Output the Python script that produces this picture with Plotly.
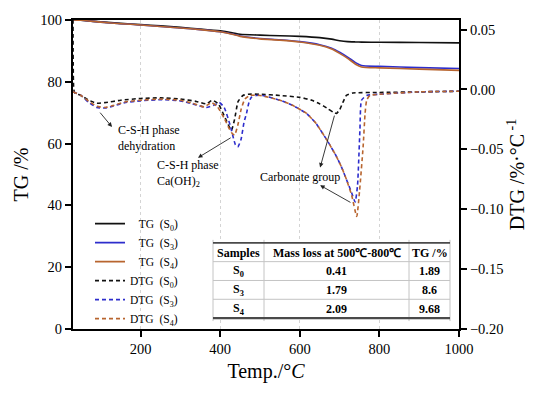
import plotly.graph_objects as go

# ---------------- data ----------------
temp_tg = [30, 50, 100, 150, 200, 250, 300, 350, 400, 430, 450, 500, 550, 600,
           650, 680, 700, 720, 740, 755, 800, 900, 1000]
tg_s0 = [100, 99.9, 99.4, 98.9, 98.5, 98.1, 97.6, 97.1, 96.5, 95.9, 95.4, 95.1,
         94.9, 94.7, 94.3, 93.8, 93.3, 93.0, 92.9, 92.85, 92.8, 92.7, 92.6]
tg_s3 = [100, 99.9, 99.3, 98.8, 98.4, 97.9, 97.4, 96.9, 96.2, 95.5, 94.8, 94.0,
         93.6, 93.0, 92.0, 90.9, 89.6, 88.0, 86.2, 85.3, 85.0, 84.6, 84.3]
tg_s4 = [100, 99.9, 99.3, 98.8, 98.4, 97.9, 97.4, 96.9, 96.2, 95.4, 94.7, 93.9,
         93.5, 92.9, 91.8, 90.6, 89.2, 87.6, 85.7, 84.8, 84.5, 84.1, 83.7]

temp_dtg_s0 = [30, 32, 35, 50, 70, 90, 110, 150, 200, 250, 300, 340, 365, 380,
               395, 410, 428, 436, 445, 457, 470, 500, 550, 600, 630, 650, 670,
               684, 692, 700, 708, 717, 733, 800, 900, 1000]
dtg_s0 = [0.07, 0.0, -0.003, -0.005, -0.009, -0.0115, -0.011, -0.009, -0.0075,
          -0.007, -0.008, -0.010, -0.012, -0.009, -0.012, -0.022, -0.034, -0.025,
          -0.010, -0.005, -0.004, -0.004, -0.005, -0.0066, -0.009, -0.012, -0.016,
          -0.019, -0.020, -0.017, -0.011, -0.005, -0.003, -0.0025, -0.002, -0.0015]

temp_dtg_s3 = [30, 50, 70, 90, 110, 130, 160, 200, 250, 300, 330, 365, 385, 398,
               410, 425, 438, 444, 452, 460, 466, 472, 478, 490, 506, 550, 580,
               617, 640, 658, 675, 692, 705, 717, 730, 739, 745, 751, 755, 768,
               800, 900, 1000]
dtg_s3 = [-0.002, -0.005, -0.011, -0.015, -0.0155, -0.014, -0.011, -0.0095,
          -0.0085, -0.0095, -0.012, -0.015, -0.013, -0.011, -0.015, -0.030,
          -0.046, -0.048, -0.042, -0.027, -0.020, -0.011, -0.0066, -0.005, -0.005,
          -0.009, -0.013, -0.020, -0.028, -0.037, -0.046, -0.056, -0.065, -0.075,
          -0.086, -0.094, -0.080, -0.034, -0.009, -0.005, -0.004, -0.002, -0.0015]

temp_dtg_s4 = [30, 50, 70, 90, 110, 130, 160, 200, 250, 300, 330, 360, 378, 392,
               410, 428, 436, 444, 453, 462, 474, 500, 550, 580, 617, 640, 658,
               675, 692, 705, 717, 730, 743, 750, 759, 764, 768, 776, 800, 900, 1000]
dtg_s4 = [-0.002, -0.005, -0.010, -0.014, -0.015, -0.0135, -0.0105, -0.009,
          -0.008, -0.009, -0.0115, -0.0145, -0.011, -0.014, -0.024, -0.036, -0.038,
          -0.030, -0.016, -0.008, -0.005, -0.005, -0.009, -0.013, -0.020, -0.028,
          -0.037, -0.046, -0.056, -0.065, -0.075, -0.088, -0.106, -0.085, -0.048,
          -0.020, -0.009, -0.005, -0.004, -0.002, -0.0015]

table_header = ["Samples", "Mass loss at 500℃-800℃", "TG /%"]
table_samples = ["S<sub>0</sub>", "S<sub>3</sub>", "S<sub>4</sub>"]
table_mass_loss = ["0.41", "1.79", "2.09"]
table_tg = ["1.89", "8.6", "9.68"]

# ---------------- style / layout constants ----------------
FONT = "Liberation Serif, Times New Roman, serif"
BLACK = "#111111"
BLUE = "#2d2dcc"
BROWN = "#b8652f"
NB = "\u00a0"

W, H = 550, 395
ML, MR, MT, MB = 73, 91, 17, 66
PW, PH = W - ML - MR, H - MT - MB


def px_x(px):
    return (px - ML) / PW


def px_y(py):
    return (H - MB - py) / PH


fig = go.Figure()

tg_series = [(tg_s0, BLACK, "0"), (tg_s3, BLUE, "3"), (tg_s4, BROWN, "4")]
for vals, col, sub in tg_series:
    fig.add_trace(go.Scatter(
        x=temp_tg, y=vals, mode="lines", yaxis="y",
        line=dict(color=col, width=1.6, shape="spline", smoothing=0.6),
        name=f"{NB*3}TG{NB*2}(S<sub>{sub}</sub>)"))

dtg_series = [(temp_dtg_s0, dtg_s0, BLACK, "0"), (temp_dtg_s3, dtg_s3, BLUE, "3"),
              (temp_dtg_s4, dtg_s4, BROWN, "4")]
for tx, vals, col, sub in dtg_series:
    fig.add_trace(go.Scatter(
        x=tx, y=vals, mode="lines", yaxis="y2",
        line=dict(color=col, width=1.6, dash="4px,3px", shape="spline", smoothing=0.5),
        name=f"DTG{NB*2}(S<sub>{sub}</sub>)"))

axis_common = dict(showline=True, linecolor="black", linewidth=2, ticks="outside",
                   ticklen=6, tickwidth=1.5, tickcolor="black",
                   tickfont=dict(family=FONT, size=14.5, color="black"),
                   zeroline=False)

fig.update_layout(
    width=W, height=H,
    margin=dict(l=ML, r=MR, t=MT, b=MB),
    paper_bgcolor="white", plot_bgcolor="white",
    font=dict(family=FONT, color="black"),
    xaxis=dict(range=[30, 1000], tickvals=[200, 400, 600, 800, 1000], mirror=True,
               showgrid=True, gridcolor="#d4d4d4", gridwidth=1, griddash="dot",
               title=dict(text="Temp./°<i>C</i>", font=dict(family=FONT, size=20),
                          standoff=8),
               **axis_common),
    yaxis=dict(range=[0, 100], tickvals=[0, 20, 40, 60, 80, 100], showgrid=False,
               title=dict(text="TG /%", font=dict(family=FONT, size=20), standoff=6),
               **axis_common),
    yaxis2=dict(range=[-0.2, 0.058], overlaying="y", side="right",
                tickvals=[-0.2, -0.15, -0.1, -0.05, 0, 0.05], tickformat=".2f",
                showgrid=False,
                title=dict(text="DTG /%·°C<sup> -1</sup>", font=dict(family=FONT, size=20),
                           standoff=8),
                **axis_common),
    legend=dict(x=px_x(90), y=px_y(208), xanchor="left", yanchor="top",
                bgcolor="rgba(0,0,0,0)", font=dict(family=FONT, size=11.5, color="black"),
                tracegroupgap=0),
    showlegend=True,
)

# annotations: text labels
labels = [
    dict(x=138, y=-0.0408, text="C-S-H phase<br>dehydration"),
    dict(x=236, y=-0.0702, text="C-S-H phase<br>Ca(OH)<sub>2</sub>"),
    dict(x=495, y=-0.0735, text="Carbonate group"),
]
for lb in labels:
    fig.add_annotation(x=lb["x"], y=lb["y"], xref="x", yref="y2", text=lb["text"],
                       showarrow=False, xanchor="left", yanchor="middle", align="left",
                       font=dict(family=FONT, size=12, color="black"))

# arrows (head near text, tail on curve)
arrows = [
    (128, -0.0313, 95, -0.0181),
    (344, -0.057, 430, -0.0396),
    (651, -0.0652, 688, -0.0206),
    (651, -0.080, 731, -0.095),
]
for hx, hy, tx, ty in arrows:
    fig.add_annotation(x=hx, y=hy, xref="x", yref="y2", ax=tx, ay=ty, axref="x",
                       ayref="y2", text="", showarrow=True, arrowhead=2,
                       arrowsize=1, arrowwidth=0.9, arrowcolor="#222222")

# ---------------- inset table ----------------
col_edges = [213, 264, 409, 450]
row_edges = [242, 261, 280, 299, 318]

fig.add_shape(type="rect", xref="paper", yref="paper", layer="above",
              x0=px_x(col_edges[0]), x1=px_x(col_edges[-1]),
              y0=px_y(row_edges[-1]), y1=px_y(row_edges[0]),
              fillcolor="white", line=dict(width=0))
for cx in col_edges:
    fig.add_shape(type="line", xref="paper", yref="paper", layer="above",
                  x0=px_x(cx), x1=px_x(cx), y0=px_y(row_edges[-1] + 3),
                  y1=px_y(row_edges[0] - 3), line=dict(color="#c4c4c4", width=1))
for ry in row_edges[1:-1]:
    fig.add_shape(type="line", xref="paper", yref="paper", layer="above",
                  x0=px_x(col_edges[0]), x1=px_x(col_edges[-1]), y0=px_y(ry),
                  y1=px_y(ry), line=dict(color="#c4c4c4", width=1))
fig.add_shape(type="line", xref="paper", yref="paper", layer="above",
              x0=px_x(col_edges[0]), x1=px_x(col_edges[-1]), y0=px_y(row_edges[0]),
              y1=px_y(row_edges[0]), line=dict(color="#4a4a4a", width=1.6))
fig.add_shape(type="line", xref="paper", yref="paper", layer="above",
              x0=px_x(col_edges[0]), x1=px_x(col_edges[-1]), y0=px_y(row_edges[-1]),
              y1=px_y(row_edges[-1]), line=dict(color="#4a4a4a", width=2.4))

table_columns = [table_samples, table_mass_loss, table_tg]
for j, head in enumerate(table_header):
    xc = (col_edges[j] + col_edges[j + 1]) / 2
    yc = (row_edges[0] + row_edges[1]) / 2 + 1
    fig.add_annotation(x=px_x(xc), y=px_y(yc), xref="paper", yref="paper",
                       text=f"<b>{head}</b>", showarrow=False, xanchor="center",
                       yanchor="middle", font=dict(family=FONT, size=12, color="black"))
    for i, val in enumerate(table_columns[j]):
        yc = (row_edges[i + 1] + row_edges[i + 2]) / 2
        fig.add_annotation(x=px_x(xc), y=px_y(yc), xref="paper", yref="paper",
                           text=f"<b>{val}</b>", showarrow=False, xanchor="center",
                           yanchor="middle",
                           font=dict(family=FONT, size=12, color="black"))

fig.write_html("out.html", config={"displayModeBar": False},
               post_script="document.body.style.margin='0px';document.body.style.overflow='hidden';")
